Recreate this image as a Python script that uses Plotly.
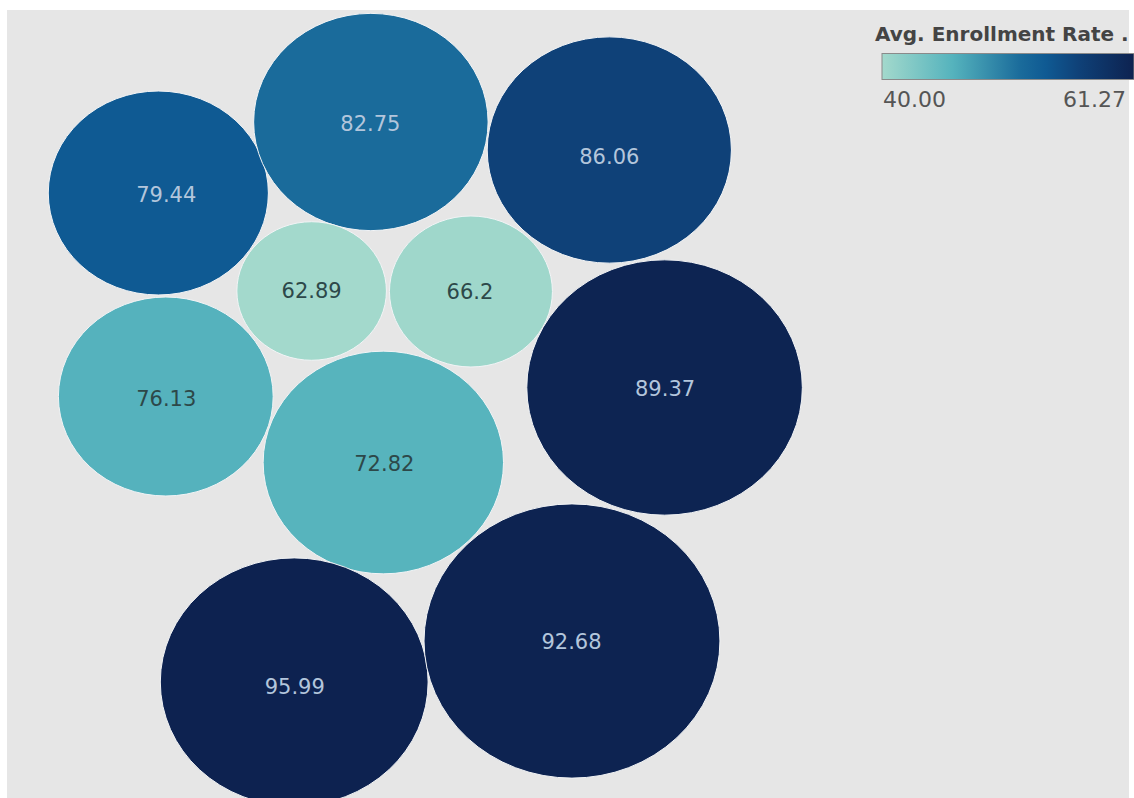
import numpy as np
import plotly.graph_objects as go
from plotly.colors import sample_colorscale

# ---------------- data ----------------
labels = ["79.44", "82.75", "86.06", "62.89", "66.2", "76.13", "72.82", "89.37", "95.99", "92.68"]
size_values = [104, 118, 128, 48, 57, 99, 124, 163, 154, 188]            # bubble size measure
enroll_rate = [53.8, 51.7, 56.6, 40.0, 40.3, 46.0, 45.8, 61.0, 61.27, 61.1]  # Avg. Enrollment Rate (colour)
legend_title = "Avg. Enrollment Rate ."
cmin, cmax = 40.00, 61.27

# ---------------- layout (packed-bubble placement, pixels) ----------------
bubble_cx = [159, 372.5, 612, 313, 473, 166.5, 385, 667.5, 295.5, 574.5]
bubble_cy = [193, 122, 150, 291, 291.5, 396.5, 462.5, 387.5, 682, 641]
label_cx = [167, 372, 612, 313, 472, 167, 386, 668, 296, 574]
label_cy = [197, 126, 159, 293, 294, 401, 466, 391, 689, 644]
RADIUS_K = 10.0      # radius = K * sqrt(size)
X_STRETCH = 1.084    # the reference is slightly stretched horizontally

colorscale = [
    [0.00, "#a3d9cc"],
    [0.28, "#55b3bd"],
    [0.55, "#1a6b9b"],
    [0.65, "#0f5a93"],
    [0.78, "#0f4178"],
    [1.00, "#0d2250"],
]

W, H = 1134, 798
ML, MT = 7, 10

norm = [(v - cmin) / (cmax - cmin) for v in enroll_rate]
fill_colors = sample_colorscale(colorscale, norm)

shapes = []
for cx, cy, s, col in zip(bubble_cx, bubble_cy, size_values, fill_colors):
    r = RADIUS_K * np.sqrt(s)
    shapes.append(dict(
        type="circle", xref="x", yref="y",
        x0=cx - r * X_STRETCH, x1=cx + r * X_STRETCH,
        y0=cy - r, y1=cy + r,
        fillcolor=col, line=dict(color="#f2f4f6", width=1), layer="below",
    ))

text_colors = ["#2d4849" if v < 50 else "#b3c6dc" for v in enroll_rate]

fig = go.Figure()
fig.add_trace(go.Scatter(
    x=label_cx, y=label_cy, mode="markers+text", text=labels,
    textposition="middle center",
    textfont=dict(family="DejaVu Sans", size=21, color=text_colors),
    marker=dict(
        size=1, opacity=0, color=enroll_rate, colorscale=colorscale,
        cmin=cmin, cmax=cmax, showscale=True,
        colorbar=dict(
            orientation="h", x=(886 - ML) / (W - ML), xanchor="left",
            y=(H - 67) / (H - MT), yanchor="middle",
            len=252, lenmode="pixels", thickness=26, thicknessmode="pixels",
            outlinewidth=1, outlinecolor="#8a8a8a", showticklabels=False,
            ticks="", xpad=0, ypad=0, bgcolor="rgba(0,0,0,0)",
        ),
    ),
    hoverinfo="skip", showlegend=False,
))

annotations = [
    dict(text="<b>" + legend_title + "</b>", xref="paper", yref="paper",
         x=(877 - ML) / (W - ML), y=(H - 34) / (H - MT), xanchor="left", yanchor="middle",
         showarrow=False, font=dict(family="DejaVu Sans", size=20, color="#444444")),
    dict(text=f"{cmin:.2f}", xref="paper", yref="paper",
         x=(885 - ML) / (W - ML), y=(H - 99) / (H - MT), xanchor="left", yanchor="middle",
         showarrow=False, font=dict(family="DejaVu Sans", size=22, color="#555555")),
    dict(text=f"{cmax:.2f}", xref="paper", yref="paper",
         x=(1133 - ML) / (W - ML), y=(H - 99) / (H - MT), xanchor="right", yanchor="middle",
         showarrow=False, font=dict(family="DejaVu Sans", size=22, color="#555555")),
]

fig.update_layout(
    width=W, height=H,
    margin=dict(l=ML, r=0, t=MT, b=0, pad=0),
    paper_bgcolor="white", plot_bgcolor="#e6e6e6",
    xaxis=dict(range=[ML, W], visible=False, fixedrange=True),
    yaxis=dict(range=[H, MT], visible=False, fixedrange=True),
    shapes=shapes, annotations=annotations,
)

fig.write_html("out.html")
